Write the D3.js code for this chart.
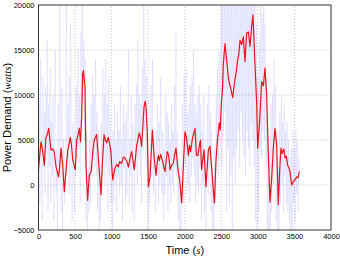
<!DOCTYPE html>
<meta charset="utf-8">
<style>

body {
  margin: 0;
  background: #fff;
}

text {
  font-family: "Liberation Sans", Arial, sans-serif;
}

.math {
  font-family: "Liberation Serif", "DejaVu Serif", serif;
  font-style: italic;
}

</style>
<svg></svg>
<script src="https://cdn.jsdelivr.net/npm/d3@7"></script>
<script>

var width = 340,
    height = 257;

var margin = {top: 5, right: 9, bottom: 27, left: 38.5};

// x ticks and y ticks
var timeTicks = [0, 500, 1000, 1500, 2000, 2500, 3000, 3500, 4000];
var powerTicks = [-5000, 0, 5000, 10000, 15000, 20000];

// smoothed demand (red)
var smoothTime = [0, 20, 35, 55, 80, 100, 120, 140, 170, 195, 215, 240, 275, 290, 308, 330, 353, 380, 400, 420,
  435, 450, 468, 503, 522, 540, 558, 575, 590, 604, 615, 625, 636, 650, 672, 695, 720, 745, 763, 795,
  818, 855, 875, 896, 915, 932, 955, 987, 1015, 1046, 1070, 1090, 1110, 1137, 1160, 1183, 1205, 1230, 1250, 1274,
  1310, 1343, 1378, 1395, 1410, 1443, 1458, 1470, 1488, 1502, 1525, 1557, 1584, 1607, 1625, 1639, 1655, 1670, 1700, 1715,
  1730, 1760, 1780, 1800, 1820, 1843, 1860, 1880, 1907, 1930, 1958, 1980, 2003, 2025, 2049, 2065, 2080, 2100, 2117, 2140,
  2160, 2180, 2200, 2215, 2230, 2263, 2290, 2323, 2345, 2370, 2390, 2405, 2428, 2445, 2472, 2485, 2500, 2515, 2528, 2550,
  2573, 2596, 2612, 2628, 2655, 2672, 2687, 2705, 2724, 2740, 2756, 2780, 2801, 2824, 2847, 2870, 2892, 2915, 2932, 2947,
  2960, 2984, 2997, 3015, 3029, 3052, 3075, 3097, 3120, 3143, 3166, 3189, 3211, 3234, 3257, 3279, 3302, 3316, 3330, 3340,
  3355, 3371, 3390, 3407, 3425, 3439, 3462, 3485, 3508, 3530, 3550, 3567];

var smoothPower = [1700, 3600, 4800, 3900, 2200, 5200, 5600, 6300, 3900, 4000, 3700, 2000, 900, 2100, 4100, 2300, -750, 2000, 3900, 4600,
  5300, 4500, 2800, 1700, 5000, 5500, 6300, 4800, 7600, 12400, 12700, 11800, 10900, 2000, -1700, 1100, 1500, 3900, 5000, 5600,
  3100, -1100, 2600, 5600, 5000, 4700, 5300, 3900, 560, 1900, 2300, 2000, 2600, 2400, 3100, 3000, 2700, 2000, 2900, 3700,
  1700, 4400, 5800, 5200, 4300, 8700, 9300, 8700, 5800, -200, 900, 6100, 2800, 1100, 2600, 3300, 2700, 3400, 2600, 1900,
  1500, 3700, 3300, 1700, 2200, 2400, 3300, 4100, 1700, 560, -2000, 2000, 5900, 5200, 3300, 4400, 3700, 4900, 5600, 6300,
  3300, 3300, 4400, 5000, 1700, 3900, -200, 3900, 4300, 1700, -550, -2000, 2800, 4800, 6900, 6100, 9000, 10500, 13500, 15700,
  13900, 12000, 11200, 10800, 9700, 10800, 11700, 12600, 13900, 14600, 16100, 15600, 16500, 13700, 16900, 17000, 15400, 17600, 18900, 16100,
  13500, 9000, 4100, 6000, 7800, 11500, 11000, 13000, 10000, 3300, -1900, 800, 4100, 6300, 4400, -2200, 2200, 4100, 3500, 3700,
  4000, 3000, 3200, 2200, 1900, 1500, 0, 400, 560, 900, 800, 1500];

// raw demand (blue), one reading every 10 s
var rawPower = [
  1000, 9000, -2000, 14000, 3000, -4000, 12000, 2000, 8000, -1000,
  11000, 4000, 16000, -3000, 9000, 2000, 13000, -2000, 7000, 1000,
  10000, -4000, 6000, 15000, -1000, 4000, -5000, 9000, 2000, 20000,
  3000, -3000, 11000, -6000, 5000, 2000, -2000, 8000, 21000, 1000,
  9000, 3000, 12000, -1000, 18000, 4000, -4000, 7000, 2000, -3000,
  6000, 1000, 11000, 3000, 15000, 4000, 10000, -2000, 17000, 6000,
  22000, 9000, 16000, 5000, 14000, -4000, 6000, -7000, 2000, -3000,
  5000, -2000, 9000, 1000, 12000, 3000, 10000, 2000, 14000, 1000,
  8000, -3000, 6000, -5000, 2000, -4000, 7000, 1000, 13000, 3000,
  10000, 0, 14000, 2000, 9000, -3000, 12000, 1000, 8000, -2000,
  4000, -5000, 6000, -2000, 9000, 0, 5000, -3000, 8000, 1000,
  6000, -1000, 11000, 0, 5000, -4000, 9000, 2000, 7000, -2000,
  8000, -1000, 6000, 15000, -2000, 5000, 1000, 10000, -3000, 7000,
  1000, -4000, 9000, 2000, 11000, 0, 16000, 3000, 10000, 1000,
  9000, -2000, 13000, 4000, 21000, 6000, 14000, 2000, 12000, 5000,
  -6000, 3000, -2000, 8000, 11000, 1000, 14000, -1000, 5000, 2000,
  -3000, 6000, 1000, 9000, -2000, 7000, 0, 12000, 3000, -1000,
  6000, -4000, 4000, -1000, 10000, 1000, 8000, -3000, 7000, 0,
  5000, -2000, 9000, 0, 6000, -1000, 11000, 2000, 17000, 1000,
  6000, -4000, 3000, -7000, 1000, -6000, 4000, 9000, -2000, 12000,
  10000, 2000, 13000, -1000, 8000, 0, 9000, -2000, 11000, 1000,
  12000, 3000, 15000, 1000, 9000, -2000, 8000, 0, 10000, -1000,
  11000, 2000, 9000, -4000, 6000, 0, 10000, -3000, 4000, -6000,
  3000, 9000, -1000, 11000, 2000, 8000, -3000, 6000, -5000, 1000,
  -7000, 4000, -2000, 10000, 3000, 13000, 1000, 15000, 4000, 12000,
  24000, 2000, 27000, 6000, 30000, 8000, 25000, -3000, 22000, 4000,
  26000, -2000, 21000, 1000, 24000, -5000, 20000, 3000, 28000, 0,
  25000, 4000, 29000, 6000, 27000, 2000, 31000, 8000, 26000, 5000,
  30000, 3000, 28000, 1000, 32000, 6000, 27000, 4000, 29000, 2000,
  31000, 7000, 33000, 5000, 28000, 2000, 24000, -4000, 18000, -6000,
  12000, -3000, 16000, 4000, 21000, 3000, 19000, 6000, 23000, 5000,
  18000, 2000, 12000, -5000, 6000, -8000, 4000, -6000, 9000, -3000,
  10000, 0, 14000, 2000, 11000, -4000, 6000, -8000, 2000, -5000,
  8000, -2000, 10000, 0, 7000, -3000, 9000, 1000, 6000, -2000,
  7000, -3000, 5000, -4000, 3000, -6000, 4000, -5000, 6000, -2000,
  4000, -4000, 6000, -1000, 5000, -3000, 3000, 1500];

var svg = d3.select("svg")
    .attr("width", width)
    .attr("height", height);

var x = d3.scaleLinear()
    .domain([0, 4000])
    .range([margin.left, width - margin.right]);

var y = d3.scaleLinear()
    .domain([-5000, 20000])
    .range([height - margin.bottom, margin.top]);

svg.append("clipPath")
    .attr("id", "plot")
  .append("rect")
    .attr("x", x(0))
    .attr("y", y(20000))
    .attr("width", x(4000) - x(0))
    .attr("height", y(-5000) - y(20000));

// grid
var grid = svg.append("g")
    .attr("stroke", "#a0a0a0")
    .attr("stroke-width", 0.6)
    .attr("stroke-dasharray", "1,2");

grid.selectAll(".gx")
    .data(timeTicks.slice(1, -1))
  .enter().append("line")
    .attr("x1", function(d) { return x(d); })
    .attr("x2", function(d) { return x(d); })
    .attr("y1", y(-5000))
    .attr("y2", y(20000));

grid.selectAll(".gy")
    .data(powerTicks.slice(1, -1))
  .enter().append("line")
    .attr("x1", x(0))
    .attr("x2", x(4000))
    .attr("y1", function(d) { return y(d); })
    .attr("y2", function(d) { return y(d); });

var plot = svg.append("g")
    .attr("clip-path", "url(#plot)");

var raw = rawPower.map(function(v, i) { return [i * 10, v]; });
var smooth = smoothTime.map(function(t, i) { return [t, smoothPower[i]]; });

var line = d3.line()
    .x(function(d) { return x(d[0]); })
    .y(function(d) { return y(d[1]); });

plot.append("path")
    .datum(raw)
    .attr("d", line)
    .attr("fill", "none")
    .attr("stroke", "#0000ff")
    .attr("stroke-opacity", 0.12)
    .attr("stroke-width", 0.6);

plot.append("path")
    .datum(smooth)
    .attr("d", line)
    .attr("fill", "none")
    .attr("stroke", "#e8141c")
    .attr("stroke-width", 1.2)
    .attr("stroke-linejoin", "round");

// frame
svg.append("rect")
    .attr("x", x(0))
    .attr("y", y(20000))
    .attr("width", x(4000) - x(0))
    .attr("height", y(-5000) - y(20000))
    .attr("fill", "none")
    .attr("stroke", "#333")
    .attr("stroke-width", 1);

var xAxis = svg.append("g")
    .attr("transform", "translate(0," + y(-5000) + ")")
    .call(d3.axisBottom(x).tickValues(timeTicks).tickSize(0).tickPadding(4)
      .tickFormat(function(d) { return d; }));

var yAxis = svg.append("g")
    .attr("transform", "translate(" + x(0) + ",0)")
    .call(d3.axisLeft(y).tickValues(powerTicks).tickSize(0).tickPadding(4)
      .tickFormat(function(d) { return d < 0 ? "\u2212" + (-d) : d; }));

svg.selectAll(".domain").remove();
svg.selectAll(".tick text")
    .attr("font-family", "Liberation Sans, Arial, sans-serif")
    .attr("font-size", 7.5)
    .attr("fill", "#000");

var xl = svg.append("text")
    .attr("x", (x(0) + x(4000)) / 2)
    .attr("y", 254)
    .attr("text-anchor", "middle")
    .attr("font-size", 11);
xl.append("tspan").text("Time (");
xl.append("tspan").attr("class", "math").text("s");
xl.append("tspan").text(")");

var yl = svg.append("text")
    .attr("transform", "translate(11," + (y(7500)) + ") rotate(-90)")
    .attr("text-anchor", "middle")
    .attr("font-size", 11);
yl.append("tspan").text("Power Demand (");
yl.append("tspan").attr("class", "math").text("watts");
yl.append("tspan").text(")");

</script>
